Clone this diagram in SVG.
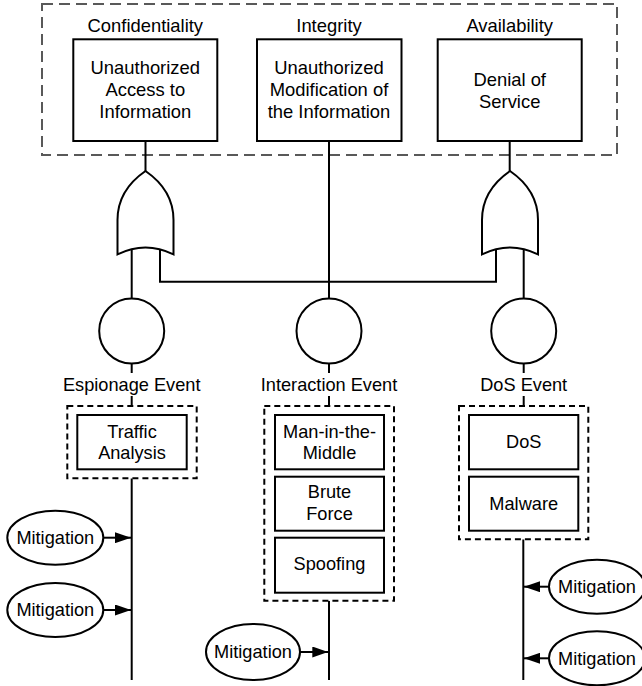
<svg xmlns="http://www.w3.org/2000/svg" width="642" height="686" viewBox="0 0 642 686">
<style>
text{font-family:"Liberation Sans",Arial,sans-serif;fill:#000;text-anchor:middle}
.t{font-size:18.4px}
.s{font-size:18.2px}
.box{fill:#fff;stroke:#000;stroke-width:2}
.outer{fill:none;stroke:#595959;stroke-width:2;stroke-dasharray:11 6}
.grp{fill:#fff;stroke:#000;stroke-width:2;stroke-dasharray:6 4}
.ln{fill:none;stroke:#000;stroke-width:2}
.gate{fill:#fff;stroke:#000;stroke-width:2;stroke-linejoin:miter}
.ev{fill:#fff;stroke:#000;stroke-width:2}
.arr{fill:none;stroke:#000;stroke-width:2;marker-end:url(#ah)}
</style>
<defs>
<marker id="ah" viewBox="0 0 16 11" refX="16" refY="5.5" markerWidth="16" markerHeight="11" markerUnits="userSpaceOnUse" orient="auto">
<path d="M0,0 L16,5.5 L0,11 Z" fill="#000"/>
</marker>
</defs>
<rect class="outer" x="42" y="4" width="575" height="151"/>
<g id="connectors">
<line class="ln" x1="145.5" y1="141" x2="145.5" y2="171"/>
<line class="ln" x1="509.7" y1="141" x2="509.7" y2="171"/>
<line class="ln" x1="329" y1="141" x2="329" y2="298.5"/>
<line class="ln" x1="131.7" y1="248" x2="131.7" y2="298.5"/>
<polyline class="ln" points="160,248 160,281.7 496,281.7 496,248"/>
<line class="ln" x1="523.7" y1="248" x2="523.7" y2="298.5"/>
<line class="ln" x1="131.7" y1="363.5" x2="131.7" y2="373"/>
<line class="ln" x1="329" y1="363.5" x2="329" y2="373"/>
<line class="ln" x1="523.7" y1="363.5" x2="523.7" y2="373"/>
<line class="ln" x1="131.7" y1="396" x2="131.7" y2="406"/>
<line class="ln" x1="329" y1="396" x2="329" y2="406"/>
<line class="ln" x1="523.7" y1="396" x2="523.7" y2="406"/>
<line class="ln" x1="131.7" y1="478.3" x2="131.7" y2="680"/>
<line class="ln" x1="329" y1="600.7" x2="329" y2="680"/>
<line class="ln" x1="523.3" y1="539.3" x2="523.3" y2="680"/>
<line class="arr" x1="103.3" y1="537.7" x2="131" y2="537.7"/>
<line class="arr" x1="103.3" y1="610" x2="131" y2="610"/>
<line class="arr" x1="300" y1="652" x2="328.3" y2="652"/>
<line class="arr" x1="549" y1="586.7" x2="524" y2="586.7"/>
<line class="arr" x1="549" y1="658.3" x2="524" y2="658.3"/>
</g>
<g id="confidentiality">
<text class="t" x="145.3" y="32">Confidentiality</text>
<rect class="box" x="73.3" y="39.3" width="144" height="101.7"/>
<text class="t" x="145.3" y="73.5">Unauthorized</text>
<text class="t" x="145.3" y="96">Access to</text>
<text class="t" x="145.3" y="118.3">Information</text>
</g>
<g id="integrity">
<text class="t" x="329" y="32">Integrity</text>
<rect class="box" x="257" y="39.3" width="144.5" height="101.7"/>
<text class="t" x="329" y="73.5">Unauthorized</text>
<text class="t" x="329" y="96">Modification of</text>
<text class="t" x="329" y="118.3">the Information</text>
</g>
<g id="availability">
<text class="t" x="509.7" y="32">Availability</text>
<rect class="box" x="437.7" y="39.3" width="144" height="101.7"/>
<text class="t" x="509.7" y="85.5">Denial of</text>
<text class="t" x="509.7" y="107.5">Service</text>
</g>
<g id="or-gate-left">
<path class="gate" d="M145.5,171 C131,181 117.5,196 117.5,220 L117.5,254.3 Q145.5,240.5 173.5,254.3 L173.5,220 C173.5,196 160,181 145.5,171 Z"/>
</g>
<g id="or-gate-right">
<path class="gate" d="M510,171 C495.5,181 482,196 482,220 L482,254.3 Q510,240.5 538,254.3 L538,220 C538,196 524.5,181 510,171 Z"/>
</g>
<g id="espionage-event">
<circle class="ev" cx="131.7" cy="331" r="32.5"/>
<text class="s" x="131.7" y="390.5">Espionage Event</text>
</g>
<g id="interaction-event">
<circle class="ev" cx="329" cy="331" r="32.5"/>
<text class="s" x="329" y="390.5">Interaction Event</text>
</g>
<g id="dos-event">
<circle class="ev" cx="523.7" cy="331" r="32.5"/>
<text class="s" x="523.7" y="390.5">DoS Event</text>
</g>
<g id="espionage-threats">
<rect class="grp" x="67.3" y="406" width="129.4" height="72.3"/>
<rect class="box" x="77.3" y="415" width="109.4" height="54.3"/>
<text class="s" x="132" y="437.5">Traffic</text>
<text class="s" x="132" y="459">Analysis</text>
</g>
<g id="interaction-threats">
<rect class="grp" x="264.3" y="406" width="129.7" height="194.7"/>
<rect class="box" x="275" y="415" width="109" height="54.3"/>
<text class="s" x="329.5" y="438">Man-in-the-</text>
<text class="s" x="329.5" y="459">Middle</text>
<rect class="box" x="275" y="476.7" width="109" height="54"/>
<text class="s" x="329.5" y="498">Brute</text>
<text class="s" x="329.5" y="520">Force</text>
<rect class="box" x="275" y="537.7" width="109" height="55"/>
<text class="s" x="329.5" y="570">Spoofing</text>
</g>
<g id="dos-threats">
<rect class="grp" x="459" y="406" width="129.3" height="133.3"/>
<rect class="box" x="469" y="415" width="109.3" height="54.3"/>
<text class="s" x="523.7" y="448">DoS</text>
<rect class="box" x="469" y="476.7" width="109.3" height="54"/>
<text class="s" x="523.7" y="509.5">Malware</text>
</g>
<g id="mitigation-1">
<ellipse class="ev" cx="55.3" cy="537.7" rx="48" ry="27"/>
<text class="s" x="55.3" y="544">Mitigation</text>
</g>
<g id="mitigation-2">
<ellipse class="ev" cx="55.3" cy="610" rx="48" ry="27"/>
<text class="s" x="55.3" y="616.3">Mitigation</text>
</g>
<g id="mitigation-3">
<ellipse class="ev" cx="253" cy="652" rx="47" ry="28"/>
<text class="s" x="253" y="658.3">Mitigation</text>
</g>
<g id="mitigation-4">
<ellipse class="ev" cx="597" cy="586.7" rx="48" ry="27"/>
<text class="s" x="597" y="593">Mitigation</text>
</g>
<g id="mitigation-5">
<ellipse class="ev" cx="597" cy="658.3" rx="48" ry="27"/>
<text class="s" x="597" y="664.6">Mitigation</text>
</g>
</svg>
